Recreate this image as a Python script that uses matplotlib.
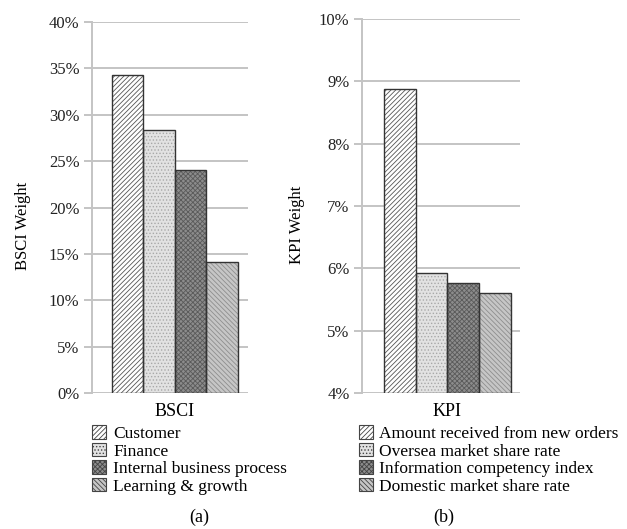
import matplotlib.pyplot as plt
from matplotlib.patches import Patch
from matplotlib.ticker import PercentFormatter

plt.rcParams['font.family'] = ['Liberation Serif', 'DejaVu Serif']
plt.rcParams['hatch.linewidth'] = 0.6

# --- data ---
bsci_labels = ['Customer', 'Finance', 'Internal business process', 'Learning & growth']
bsci_values = [34.3, 28.4, 24.0, 14.1]

kpi_labels = ['Amount received from new orders', 'Oversea market share rate',
              'Information competency index', 'Domestic market share rate']
kpi_values = [8.87, 5.93, 5.77, 5.61]

# fill / hatch style per series (face, hatch, hatch colour)
styles = [
    ('#ffffff', '///////', '#555555'),
    ('#e2e2e2', '.....', '#a8a8a8'),
    ('#8c8c8c', 'xxxxxxx', '#5a5a5a'),
    ('#c6c6c6', '\\\\\\\\\\\\\\', '#8e8e8e'),
]

grid_col = '#c4c4c4'

fig = plt.figure(figsize=(6.27, 5.29), dpi=100)
ax1 = fig.add_axes([0.1467, 0.2571, 0.2488, 0.7013])
ax2 = fig.add_axes([0.5774, 0.2571, 0.2520, 0.7070])


def draw_panel(ax, values, labels, ylim, step, xlim, cat, ylab):
    xs = range(len(values))
    for x, v, (fc, hatch, hc) in zip(xs, values, styles):
        # hatched fill first, then a dark outline on top
        ax.bar(x, v - ylim[0], bottom=ylim[0], width=1.0, color=fc, hatch=hatch,
               edgecolor=hc, linewidth=0, zorder=2)
        ax.bar(x, v - ylim[0], bottom=ylim[0], width=1.0, fill=False,
               edgecolor='#333333', linewidth=1.0, zorder=3)
    ax.set_ylim(*ylim)
    ax.set_xlim(*xlim)
    ticks = [ylim[0] + i * step for i in range(int(round((ylim[1] - ylim[0]) / step)) + 1)]
    ax.set_yticks(ticks)
    ax.yaxis.set_major_formatter(PercentFormatter(decimals=0))
    ax.yaxis.grid(True, color=grid_col, linewidth=1.4, zorder=0)
    ax.set_axisbelow(True)
    for s in ['top', 'right', 'bottom']:
        ax.spines[s].set_visible(False)
    ax.spines['left'].set_color(grid_col)
    ax.spines['left'].set_linewidth(1.4)
    ax.tick_params(axis='y', length=6, width=1.4, color=grid_col, labelsize=12,
                   labelcolor='#222222', pad=3)
    ax.set_xticks([(len(values) - 1) / 2])
    ax.set_xticklabels([cat], fontsize=13)
    ax.tick_params(axis='x', length=0, pad=7)
    ax.set_ylabel(ylab, fontsize=12)

    handles = [Patch(facecolor=fc, hatch=h, edgecolor='#444444', linewidth=0.8)
               for fc, h, hc in styles]
    return handles


h1 = draw_panel(ax1, bsci_values, bsci_labels, (0, 40), 5, (-1.13, 3.82), 'BSCI', 'BSCI Weight')
h2 = draw_panel(ax2, kpi_values, kpi_labels, (4, 10), 1, (-1.19, 3.79), 'KPI', 'KPI Weight')
ax1.yaxis.set_label_coords(-0.39, 0.45)
ax2.yaxis.set_label_coords(-0.36, 0.45)

leg_kw = dict(loc='upper left', frameon=False, fontsize=12.5, handlelength=0.8,
              handleheight=0.8, handletextpad=0.4, labelspacing=0.05, borderpad=0,
              borderaxespad=0)
fig.legend(h1, bsci_labels, bbox_to_anchor=(0.147, 0.196), **leg_kw)
fig.legend(h2, kpi_labels, bbox_to_anchor=(0.572, 0.196), **leg_kw)

fig.text(0.318, 0.022, '(a)', ha='center', va='center', fontsize=13)
fig.text(0.708, 0.022, '(b)', ha='center', va='center', fontsize=13)

fig.savefig('out.png', dpi=100, facecolor='white')
